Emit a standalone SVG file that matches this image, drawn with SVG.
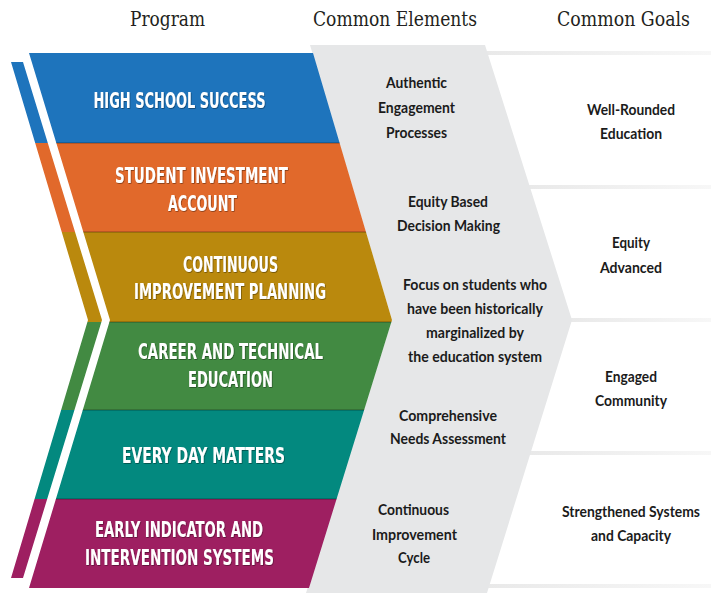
<svg xmlns="http://www.w3.org/2000/svg" width="711" height="595" viewBox="0 0 711 595">
<style>
.hdr{font-family:"DejaVu Serif","Liberation Serif",serif;font-size:20px;fill:#231f20;text-anchor:middle}
.prog{font-family:"Liberation Sans Narrow","DejaVu Sans Condensed","Liberation Sans",sans-serif;font-weight:bold;font-size:21px;fill:#ffffff;text-anchor:middle;filter:url(#sh)}
.el{font-family:Lato,"Open Sans","Liberation Sans",sans-serif;font-weight:bold;font-size:15px;fill:#1b1b1b;text-anchor:middle}
.sep{fill:url(#sepg)}
.edge{fill:#000;opacity:0.18}
</style>
<defs>
<clipPath id="mainClip"><polygon points="29,53 313,53 392,320 309,588 29,588 110,320"/></clipPath>
<clipPath id="stripClip"><polygon points="11,62 23,62 102,320 23,578 11,578 88,320"/></clipPath>
<linearGradient id="sepg" x1="0" y1="0" x2="1" y2="0">
<stop offset="0" stop-color="#e9e9e9"/>
<stop offset="1" stop-color="#f7f7f7"/>
</linearGradient>
<filter id="sh" x="-5%" y="-20%" width="110%" height="140%">
<feDropShadow dx="0.6" dy="0.8" stdDeviation="0.5" flood-color="#000" flood-opacity="0.45"/>
</filter>
</defs>
<rect width="711" height="595" fill="#ffffff"/>

<g id="headers">
<text class="hdr" x="167.5" y="26" textLength="75" lengthAdjust="spacingAndGlyphs">Program</text>
<text class="hdr" x="395" y="26" textLength="164" lengthAdjust="spacingAndGlyphs">Common Elements</text>
<text class="hdr" x="623.5" y="26" textLength="133" lengthAdjust="spacingAndGlyphs">Common Goals</text>
</g>

<g id="connectors">
<rect class="sep" x="486" y="51" width="225" height="4"/>
<rect class="sep" x="529" y="185" width="182" height="4"/>
<rect class="sep" x="571" y="318" width="140" height="4"/>
<rect class="sep" x="529" y="451" width="182" height="4"/>
<rect class="sep" x="487" y="584" width="224" height="4"/>
</g>

<g id="elements-band">
<polygon points="310,45 485,45 572,320 487,593 306,593 392,320" fill="#e6e7e8"/>
</g>

<g id="strip" clip-path="url(#stripClip)">
<rect x="0" y="40" width="120" height="103" fill="#1e74bc"/>
<rect x="0" y="143" width="120" height="89" fill="#e1692b"/>
<rect x="0" y="232" width="120" height="90" fill="#ba890d"/>
<rect x="0" y="322" width="120" height="88" fill="#428a42"/>
<rect x="0" y="410" width="120" height="89" fill="#03897f"/>
<rect x="0" y="499" width="120" height="90" fill="#9e1f61"/>
</g>

<g id="program-bands" clip-path="url(#mainClip)">
<rect x="0" y="50" width="400" height="93" fill="#1e74bc"/>
<rect x="0" y="143" width="400" height="89" fill="#e1692b"/>
<rect x="0" y="232" width="400" height="90" fill="#ba890d"/>
<rect x="0" y="322" width="400" height="88" fill="#428a42"/>
<rect x="0" y="410" width="400" height="89" fill="#03897f"/>
<rect x="0" y="499" width="400" height="92" fill="#9e1f61"/>
<rect class="edge" x="0" y="142" width="400" height="2"/>
<rect class="edge" x="0" y="231" width="400" height="2"/>
<rect class="edge" x="0" y="321" width="400" height="2"/>
<rect class="edge" x="0" y="409" width="400" height="2"/>
<rect class="edge" x="0" y="498" width="400" height="2"/>
</g>

<g id="program-high-school-success">
<text class="prog" x="179.5" y="108" textLength="172" lengthAdjust="spacingAndGlyphs">HIGH SCHOOL SUCCESS</text>
</g>
<g id="program-student-investment-account">
<text class="prog" x="201.5" y="183" textLength="173" lengthAdjust="spacingAndGlyphs">STUDENT INVESTMENT</text>
<text class="prog" x="202.5" y="211" textLength="69" lengthAdjust="spacingAndGlyphs">ACCOUNT</text>
</g>
<g id="program-continuous-improvement-planning">
<text class="prog" x="230.5" y="272" textLength="95" lengthAdjust="spacingAndGlyphs">CONTINUOUS</text>
<text class="prog" x="230" y="299" textLength="192" lengthAdjust="spacingAndGlyphs">IMPROVEMENT PLANNING</text>
</g>
<g id="program-career-technical-education">
<text class="prog" x="230.5" y="359" textLength="185" lengthAdjust="spacingAndGlyphs">CAREER AND TECHNICAL</text>
<text class="prog" x="230.5" y="387" textLength="85" lengthAdjust="spacingAndGlyphs">EDUCATION</text>
</g>
<g id="program-every-day-matters">
<text class="prog" x="203.5" y="463" textLength="163" lengthAdjust="spacingAndGlyphs">EVERY DAY MATTERS</text>
</g>
<g id="program-early-indicator">
<text class="prog" x="179" y="537" textLength="168" lengthAdjust="spacingAndGlyphs">EARLY INDICATOR AND</text>
<text class="prog" x="179.5" y="565" textLength="189" lengthAdjust="spacingAndGlyphs">INTERVENTION SYSTEMS</text>
</g>

<g id="element-authentic-engagement">
<text class="el" x="416.5" y="88" textLength="61" lengthAdjust="spacingAndGlyphs">Authentic</text>
<text class="el" x="416.5" y="113" textLength="77" lengthAdjust="spacingAndGlyphs">Engagement</text>
<text class="el" x="416.5" y="138" textLength="61" lengthAdjust="spacingAndGlyphs">Processes</text>
</g>
<g id="element-equity-based">
<text class="el" x="448" y="207" textLength="80" lengthAdjust="spacingAndGlyphs">Equity Based</text>
<text class="el" x="448.5" y="231" textLength="103" lengthAdjust="spacingAndGlyphs">Decision Making</text>
</g>
<g id="element-focus-students">
<text class="el" x="475" y="290" textLength="144" lengthAdjust="spacingAndGlyphs">Focus on students who</text>
<text class="el" x="475" y="314" textLength="136" lengthAdjust="spacingAndGlyphs">have been historically</text>
<text class="el" x="475" y="338" textLength="98" lengthAdjust="spacingAndGlyphs">marginalized by</text>
<text class="el" x="475" y="362" textLength="134" lengthAdjust="spacingAndGlyphs">the education system</text>
</g>
<g id="element-needs-assessment">
<text class="el" x="448" y="421" textLength="98" lengthAdjust="spacingAndGlyphs">Comprehensive</text>
<text class="el" x="448" y="444" textLength="116" lengthAdjust="spacingAndGlyphs">Needs Assessment</text>
</g>
<g id="element-improvement-cycle">
<text class="el" x="413.5" y="515" textLength="71" lengthAdjust="spacingAndGlyphs">Continuous</text>
<text class="el" x="414.5" y="540" textLength="85" lengthAdjust="spacingAndGlyphs">Improvement</text>
<text class="el" x="414" y="563" textLength="32" lengthAdjust="spacingAndGlyphs">Cycle</text>
</g>

<g id="goal-well-rounded">
<text class="el" x="631" y="115" textLength="88" lengthAdjust="spacingAndGlyphs">Well-Rounded</text>
<text class="el" x="631" y="139" textLength="62" lengthAdjust="spacingAndGlyphs">Education</text>
</g>
<g id="goal-equity-advanced">
<text class="el" x="631" y="248" textLength="38" lengthAdjust="spacingAndGlyphs">Equity</text>
<text class="el" x="631" y="273" textLength="62" lengthAdjust="spacingAndGlyphs">Advanced</text>
</g>
<g id="goal-engaged-community">
<text class="el" x="631" y="382" textLength="52" lengthAdjust="spacingAndGlyphs">Engaged</text>
<text class="el" x="631" y="406" textLength="72" lengthAdjust="spacingAndGlyphs">Community</text>
</g>
<g id="goal-strengthened-systems">
<text class="el" x="631" y="517" textLength="138" lengthAdjust="spacingAndGlyphs">Strengthened Systems</text>
<text class="el" x="631" y="541" textLength="80" lengthAdjust="spacingAndGlyphs">and Capacity</text>
</g>
</svg>
